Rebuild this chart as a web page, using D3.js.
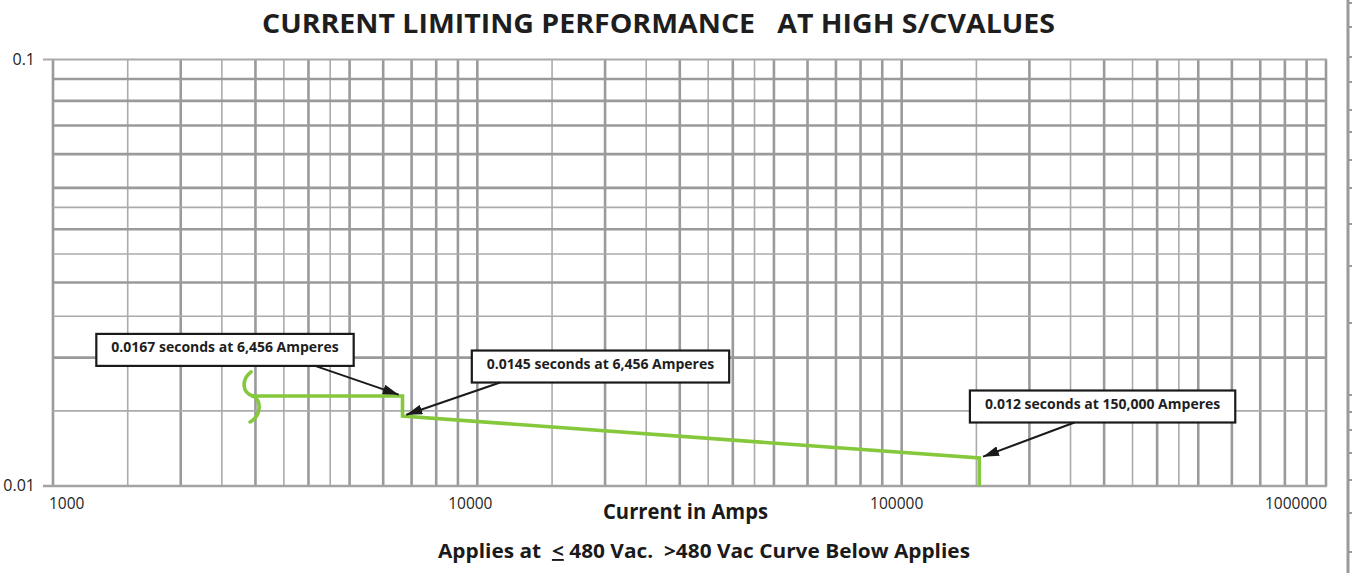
<!DOCTYPE html>
<html lang="en">
<head>
  <meta charset="UTF-8">
  <title>Current Limiting Performance</title>
  <style>
    body {
      margin: 0;
      background: #ffffff;
      font-family: "Open Sans", Arial, sans-serif;
    }
    svg text {
      white-space: pre;
    }
  </style>
</head>
<body>
  <svg id="chart" width="1352" height="573"></svg>

  <script src="https://d3js.org/d3.v7.min.js"></script>
  <script>
    // grid: one line per step in every decade
    const xDecades = [1000, 10000, 100000];
    const yDecades = [0.01];
    const gridSteps = [1, 1.5, 2, 2.5, 3, 3.5, 4, 4.5, 5, 6, 7, 8, 9];
    const thinSteps = [1.5, 2.5, 3.5, 4.5];

    const xTickValues = [1000, 10000, 100000, 1000000];
    const xTickLabels = ["1000", "10000", "100000", "1000000"];
    const yTickValues = [0.01, 0.1];
    const yTickLabels = ["0.01", "0.1"];

    // the curve (amps, seconds)
    const curveAmps = [2929, 6663, 6663, 152400, 152400];
    const curveSeconds = [0.01626, 0.01626, 0.01459, 0.01163, 0.01];

    // call-outs: box centre in data units, which curve point the arrow hits
    const noteTexts = [
      "0.0167 seconds at 6,456 Amperes",
      "0.0145 seconds at 6,456 Amperes",
      "0.012 seconds at 150,000 Amperes"
    ];
    const noteAmps = [2543, 19510, 297500];
    const noteSeconds = [0.02085, 0.01906, 0.01536];
    const notePoint = [1, 2, 3];
    const noteTail = [0.85, 0.11, 0.394];

    // ticks of the next chart, cut off at the right edge
    const edgeTicks = [3, 27, 57, 82, 110, 132, 160, 188, 224, 266, 323, 395, 412, 430, 453, 480, 513, 552];

    const svg = d3.select("#chart");

    const x = d3.scaleLog().domain([1000, 1000000]).range([53, 1326]);
    const y = d3.scaleLog().domain([0.01, 0.1]).range([486, 59.5]);

    const gridColor = "#9a9a9d";
    const thinColor = "#ababad";

    // vertical grid
    const xLines = [];
    xDecades.forEach((d) => gridSteps.forEach((s) => xLines.push({ v: d * s, thin: thinSteps.includes(s) })));
    xLines.push({ v: 1000000, thin: false });

    svg.append("g")
      .selectAll("line")
      .data(xLines)
      .enter()
      .append("line")
      .attr("x1", (d) => x(d.v))
      .attr("x2", (d) => x(d.v))
      .attr("y1", y(0.1))
      .attr("y2", y(0.01))
      .attr("stroke", (d) => (d.thin ? thinColor : gridColor))
      .attr("stroke-width", (d) => (d.thin ? 1.6 : 2.6));

    // horizontal grid
    const yLines = [];
    yDecades.forEach((d) => gridSteps.slice(1).forEach((s) => yLines.push({ v: d * s, thin: thinSteps.includes(s) })));

    svg.append("g")
      .selectAll("line")
      .data(yLines)
      .enter()
      .append("line")
      .attr("x1", x(1000))
      .attr("x2", x(1000000))
      .attr("y1", (d) => y(d.v))
      .attr("y2", (d) => y(d.v))
      .attr("stroke", (d) => (d.thin ? thinColor : gridColor))
      .attr("stroke-width", (d) => (d.thin ? 1.6 : 2.6));

    // top and bottom edges run out to the tick
    svg.append("line")
      .attr("x1", 43).attr("x2", x(1000000) + 1)
      .attr("y1", y(0.1)).attr("y2", y(0.1))
      .attr("stroke", "#a9a9ab").attr("stroke-width", 2);
    svg.append("line")
      .attr("x1", 43).attr("x2", x(1000000) + 1)
      .attr("y1", y(0.01)).attr("y2", y(0.01))
      .attr("stroke", "#a3a3a5").attr("stroke-width", 2.6);

    // y labels
    svg.append("g")
      .selectAll("text")
      .data(yTickValues)
      .enter()
      .append("text")
      .attr("x", 35)
      .attr("y", (d) => y(d) + 5)
      .attr("text-anchor", "end")
      .attr("font-size", 16)
      .attr("fill", "#1e1e1e")
      .text((d, i) => yTickLabels[i]);

    // x labels
    const xAnchor = ["start", "middle", "middle", "end"];
    const xShift = [-4, -7, -5, 1];
    svg.append("g")
      .selectAll("text")
      .data(xTickValues)
      .enter()
      .append("text")
      .attr("x", (d, i) => x(d) + xShift[i])
      .attr("y", 509)
      .attr("text-anchor", (d, i) => xAnchor[i])
      .attr("font-size", 15.5)
      .attr("fill", "#1e1e1e")
      .text((d, i) => xTickLabels[i]);

    // curve
    const pts = curveAmps.map((a, i) => [x(a), y(curveSeconds[i])]);
    const green = "#86c83c";

    svg.append("path")
      .attr("d", d3.line()(pts))
      .attr("fill", "none")
      .attr("stroke", green)
      .attr("stroke-width", 3.6)
      .attr("stroke-linejoin", "miter");

    // break mark at the start of the curve
    const [bx, by] = pts[0];
    const brk = d3.path();
    brk.moveTo(bx, by - 24);
    brk.bezierCurveTo(bx - 10, by - 16, bx - 9, by - 3, bx + 2, by);
    brk.bezierCurveTo(bx + 11, by + 5, bx + 10, by + 20, bx - 1, by + 26);
    svg.append("path")
      .attr("d", brk.toString())
      .attr("fill", "none")
      .attr("stroke", green)
      .attr("stroke-width", 3.6)
      .attr("stroke-linecap", "round");

    // arrow head
    svg.append("defs")
      .append("marker")
      .attr("id", "head")
      .attr("markerUnits", "userSpaceOnUse")
      .attr("viewBox", "0 0 16 10")
      .attr("refX", 16)
      .attr("refY", 5)
      .attr("markerWidth", 16)
      .attr("markerHeight", 10)
      .attr("orient", "auto")
      .append("path")
      .attr("d", "M0,0 L16,5 L0,10 Z")
      .attr("fill", "#1a1a1a");

    // call-outs
    const notes = svg.append("g");
    noteTexts.forEach((t, i) => {
      const cx = x(noteAmps[i]);
      const cy = y(noteSeconds[i]);
      const label = notes.append("text")
        .attr("x", cx)
        .attr("y", cy + 2.5)
        .attr("text-anchor", "middle")
        .attr("font-size", 14)
        .attr("font-weight", 700)
        .attr("fill", "#1e1e1e")
        .text(t);
      const w = label.node().getComputedTextLength() + 30;
      const h = 32;
      notes.insert("rect", "text")
        .attr("x", cx - w / 2)
        .attr("y", cy - h / 2)
        .attr("width", w)
        .attr("height", h)
        .attr("fill", "#ffffff")
        .attr("stroke", "#1a1a1a")
        .attr("stroke-width", 2.2);

      const [px, py] = pts[notePoint[i]];
      const tx = cx - w / 2 + w * noteTail[i];
      const ty = cy + h / 2;
      const ang = Math.atan2(py - ty, px - tx);
      notes.append("line")
        .attr("x1", tx)
        .attr("y1", ty)
        .attr("x2", px - Math.cos(ang) * 4)
        .attr("y2", py - Math.sin(ang) * 4)
        .attr("stroke", "#1a1a1a")
        .attr("stroke-width", 2)
        .attr("marker-end", "url(#head)");
    });

    // title and axis captions
    svg.append("text")
      .attr("x", 658.5)
      .attr("y", 33)
      .attr("text-anchor", "middle")
      .attr("font-size", 26)
      .attr("font-weight", 700)
      .attr("fill", "#1e1e1e")
      .attr("textLength", 793)
      .attr("lengthAdjust", "spacingAndGlyphs")
      .text("CURRENT LIMITING PERFORMANCE   AT HIGH S/CVALUES");

    svg.append("text")
      .attr("x", 685.5)
      .attr("y", 519)
      .attr("text-anchor", "middle")
      .attr("font-size", 21)
      .attr("font-weight", 700)
      .attr("fill", "#1a1a1a")
      .attr("textLength", 165)
      .attr("lengthAdjust", "spacingAndGlyphs")
      .text("Current in Amps");

    const sub = svg.append("text")
      .attr("x", 704)
      .attr("y", 558)
      .attr("text-anchor", "middle")
      .attr("font-size", 19)
      .attr("font-weight", 700)
      .attr("fill", "#1a1a1a")
      .attr("textLength", 532)
      .attr("lengthAdjust", "spacingAndGlyphs");
    sub.append("tspan").text("Applies at  ");
    sub.append("tspan").attr("text-decoration", "underline").text("<");
    sub.append("tspan").text(" 480 Vac.  >480 Vac Curve Below Applies");

    // edge of the neighbouring chart
    const edgeY = d3.scaleLinear().domain([0, 573]).range([0, 573]);
    svg.append("line")
      .attr("x1", 1348).attr("x2", 1348)
      .attr("y1", 0).attr("y2", 573)
      .attr("stroke", "#9a9a9d").attr("stroke-width", 3);
    svg.append("g")
      .selectAll("line")
      .data(edgeTicks)
      .enter()
      .append("line")
      .attr("x1", 1348).attr("x2", 1352)
      .attr("y1", (d) => edgeY(d)).attr("y2", (d) => edgeY(d))
      .attr("stroke", "#9a9a9d").attr("stroke-width", 2);
  </script>
</body>
</html>
